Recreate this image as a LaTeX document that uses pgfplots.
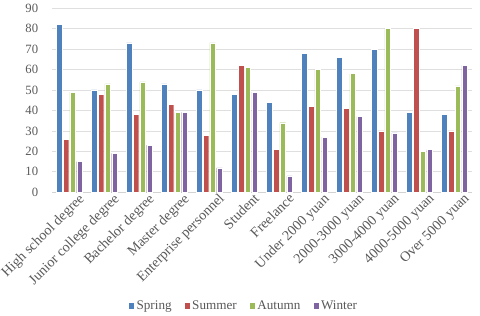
\documentclass[border=0pt]{standalone}
\usepackage{pgfplots}
\pgfplotsset{compat=1.18}
\usepackage{fontspec}
\setmainfont{Liberation Serif}
\definecolor{cSpring}{HTML}{4F81BD}
\definecolor{cSummer}{HTML}{C0504D}
\definecolor{cAutumn}{HTML}{9BBB59}
\definecolor{cWinter}{HTML}{8064A2}
\definecolor{txt}{HTML}{595959}
\begin{document}
\begin{tikzpicture}
\begin{axis}[
  name=ax,
  scale only axis,
  width=415pt, height=182pt,
  ybar=1.2pt, bar width=5.5pt,
  ymin=0, ymax=90, ytick={0,10,...,90},
  xmin=-0.5, xmax=11.5,
  xtick={0,...,11},
  xticklabels={High school degree,Junior college degree,Bachelor degree,Master degree,Enterprise personnel,Student,Freelance,Under 2000 yuan,2000-3000 yuan,3000-4000 yuan,4000-5000 yuan,Over 5000 yuan},
  x tick label style={rotate=45, anchor=north east, inner sep=0pt, yshift=-6pt, xshift=6pt, font=\fontsize{14}{16}\selectfont},
  y tick label style={xshift=-10pt, font=\fontsize{12.5}{15}\selectfont},
  tick label style={text=txt},
  /pgf/number format/assume math mode=true,
  ymajorgrids, grid style={draw=gray!25, line width=0.7pt},
  major tick length=0pt,
  axis x line*=bottom,
  axis y line*=left,
  separate axis lines,
  x axis line style={draw=gray!35, line width=0.7pt, -},
  y axis line style={draw=none},
  legend style={at={(0.5,-0.57)}, anchor=north, xshift=-18pt, draw=none, legend columns=-1,
    font=\fontsize{13}{15}\selectfont, text=txt, inner sep=1pt,
    /tikz/every even column/.append style={column sep=10pt}},
  legend image code/.code={\fill[#1] (0pt,-3pt) rectangle (6pt,3pt);},
  every axis plot/.append style={draw=white, line width=0.3pt},
]
\addplot[fill=cSpring] coordinates {(0,82)(1,50)(2,73)(3,53)(4,50)(5,48)(6,44)(7,68)(8,66)(9,70)(10,39)(11,38)};
\addplot[fill=cSummer] coordinates {(0,26)(1,48)(2,38)(3,43)(4,28)(5,62)(6,21)(7,42)(8,41)(9,30)(10,80)(11,30)};
\addplot[fill=cAutumn] coordinates {(0,49)(1,53)(2,54)(3,39)(4,73)(5,61)(6,34)(7,60)(8,58)(9,80)(10,20)(11,52)};
\addplot[fill=cWinter] coordinates {(0,15)(1,19)(2,23)(3,39)(4,12)(5,49)(6,8)(7,27)(8,37)(9,29)(10,21)(11,62)};
\legend{Spring,Summer,Autumn,Winter}
\end{axis}
\path (ax.north east) ++(8pt,8pt);
\path (ax.south east) ++(8pt,-122pt);
\end{tikzpicture}
\end{document}
